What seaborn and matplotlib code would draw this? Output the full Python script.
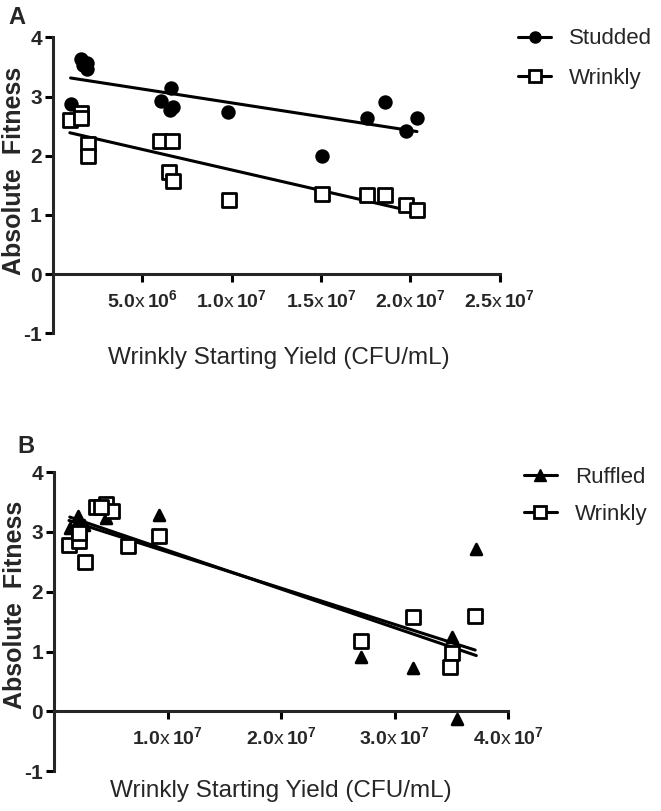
import numpy as np
import pandas as pd
import matplotlib
matplotlib.use("Agg")
import matplotlib.pyplot as plt
from matplotlib.lines import Line2D
import seaborn as sns

# panel A: Studded vs Wrinkly
studded_x = [0.99e6, 1.57e6, 1.70e6, 1.92e6, 1.92e6, 6.04e6, 6.60e6, 6.54e6, 6.73e6,
             9.80e6, 15.08e6, 17.60e6, 18.59e6, 20.37e6, 19.74e6]
studded_y = [2.88, 3.64, 3.54, 3.57, 3.46, 2.92, 3.14, 2.78, 2.82,
             2.74, 1.99, 2.63, 2.91, 2.64, 2.42]
wrinklyA_x = [0.95e6, 1.60e6, 1.60e6, 1.94e6, 1.94e6, 5.98e6, 6.67e6, 6.50e6, 6.73e6,
              9.83e6, 15.08e6, 17.60e6, 18.59e6, 19.78e6, 20.37e6]
wrinklyA_y = [2.60, 2.72, 2.63, 2.19, 1.99, 2.25, 2.25, 1.72, 1.57,
              1.25, 1.36, 1.33, 1.33, 1.16, 1.08]

# panel B: Ruffled vs Wrinkly
ruffled_x = [1.39e6, 2.12e6, 2.65e6, 1.92e6, 4.56e6, 9.27e6,
             37.2e6, 27.0e6, 31.6e6, 35.1e6, 35.5e6]
ruffled_y = [3.06, 3.26, 3.12, 3.12, 3.23, 3.28,
             2.71, 0.91, 0.73, 1.25, -0.13]
wrinklyB_x = [1.32e6, 2.20e6, 2.74e6, 2.20e6, 3.68e6, 4.62e6, 5.09e6, 4.12e6, 6.56e6,
              9.27e6, 27.0e6, 31.6e6, 37.1e6, 35.1e6, 34.9e6]
wrinklyB_y = [2.78, 2.84, 2.50, 2.98, 3.41, 3.47, 3.35, 3.41, 2.77,
              2.93, 1.17, 1.57, 1.59, 0.98, 0.74]

ticksA = [5e6, 1e7, 1.5e7, 2e7, 2.5e7]
ticklabA = [r"$\mathbf{5.0}$x$\,\mathbf{10^6}$", r"$\mathbf{1.0}$x$\,\mathbf{10^7}$",
            r"$\mathbf{1.5}$x$\,\mathbf{10^7}$", r"$\mathbf{2.0}$x$\,\mathbf{10^7}$",
            r"$\mathbf{2.5}$x$\,\mathbf{10^7}$"]
ticksB = [1e7, 2e7, 3e7, 4e7]
ticklabB = [r"$\mathbf{1.0}$x$\,\mathbf{10^7}$", r"$\mathbf{2.0}$x$\,\mathbf{10^7}$",
            r"$\mathbf{3.0}$x$\,\mathbf{10^7}$", r"$\mathbf{4.0}$x$\,\mathbf{10^7}$"]

sns.set_theme(style="ticks")
plt.rcParams['font.family'] = ['Liberation Sans', 'DejaVu Sans']
plt.rcParams['mathtext.fontset'] = 'custom'
plt.rcParams['mathtext.rm'] = 'Liberation Sans'
plt.rcParams['mathtext.bf'] = 'Liberation Sans:bold'

fig = plt.figure(figsize=(6.61, 8.11), dpi=100)
axA = fig.add_axes([0.080, 0.589, 0.676, 0.365])
axB = fig.add_axes([0.0817, 0.049, 0.687, 0.369])


def draw(ax, series, xmax, ticks, ticklabels):
    for x, y, mk, face, ms in series:
        df = pd.DataFrame({"x": x, "y": y})
        sns.regplot(data=df, x="x", y="y", ax=ax, scatter=False, ci=None,
                    truncate=True, line_kws=dict(color="black", lw=2.2))
        sns.scatterplot(data=df, x="x", y="y", ax=ax, marker=mk, s=ms,
                        color=face, edgecolor="black", linewidth=2, zorder=3)
    # move the x axis to y=0 first (this resets the ticks)
    for s in ["top", "right"]:
        ax.spines[s].set_visible(False)
    ax.spines["bottom"].set_position(("data", 0))
    ax.spines["left"].set_linewidth(2.2)
    ax.spines["bottom"].set_linewidth(2.2)
    ax.set_xlim(0, xmax)
    ax.set_ylim(-1, 4)
    ax.set_yticks([-1, 0, 1, 2, 3, 4])
    ax.set_yticklabels(["-1", "0", "1", "2", "3", "4"], fontsize=15, fontweight="bold")
    ax.set_xticks(ticks)
    ax.set_xticklabels(ticklabels, fontsize=14)
    ax.tick_params(width=2.2, length=6, color="black", pad=2)
    ax.tick_params(axis="x", pad=5)
    ax.set_ylabel("Absolute  Fitness", fontsize=18, fontweight="bold")
    ax.set_xlabel("Wrinkly Starting Yield (CFU/mL)", fontsize=17.5)


draw(axA, [(studded_x, studded_y, "o", "black", 70),
           (wrinklyA_x, wrinklyA_y, "s", "white", 110)],
     2.5e7, ticksA, ticklabA)
draw(axB, [(ruffled_x, ruffled_y, "^", "black", 60),
           (wrinklyB_x, wrinklyB_y, "s", "white", 110)],
     4.0e7, ticksB, ticklabB)

axA.yaxis.set_label_coords(-0.06, 0.55)
axA.xaxis.set_label_coords(0.505, -0.045)
axB.yaxis.set_label_coords(-0.06, 0.555)
axB.xaxis.set_label_coords(0.5, -0.03)

hA = [Line2D([], [], color="black", lw=2.2, marker="o", ms=8, label="Studded"),
      Line2D([], [], color="black", lw=2.2, marker="s", ms=9, mfc="white", mew=2, label="Wrinkly")]
axA.legend(handles=hA, loc="upper left", bbox_to_anchor=(0.996, 1.098), frameon=False,
           fontsize=16, handlelength=1.5, handletextpad=0.8, labelspacing=0.85)
hB = [Line2D([], [], color="black", lw=2.2, marker="^", ms=8, label="Ruffled"),
      Line2D([], [], color="black", lw=2.2, marker="s", ms=9, mfc="white", mew=2, label="Wrinkly")]
axB.legend(handles=hB, loc="upper left", bbox_to_anchor=(0.99, 1.084), frameon=False,
           fontsize=16, handlelength=1.5, handletextpad=0.8, labelspacing=0.72)

fig.text(0.012, 0.978, "A", fontsize=17, fontweight="bold", va="center")
fig.text(0.027, 0.449, "B", fontsize=17, fontweight="bold", va="center")

fig.savefig("out.png", dpi=100)
